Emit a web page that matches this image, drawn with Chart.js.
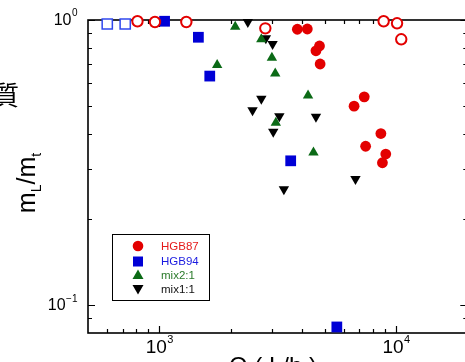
<!DOCTYPE html>
<html>
<head>
<meta charset="utf-8">
<script src="https://cdn.jsdelivr.net/npm/chart.js@4/dist/chart.umd.min.js"></script>
<style>
  html, body { margin: 0; padding: 0; background: #fff; overflow: hidden; }
  #wrap { position: absolute; left: 0; top: 0; width: 476px; height: 362px; }
</style>
</head>
<body>
<div id="wrap"><canvas id="grafico" width="476" height="362"></canvas></div>
<script>
// datos: Q (L/h) y m_L/m_t
const hgb87Q      = [3830, 4220, 4750, 4590, 4780, 7340, 6650, 8630, 7440, 9050, 8760];
const hgb87Ratio  = [0.928, 0.930, 0.811, 0.780, 0.701, 0.538, 0.499, 0.400, 0.361, 0.339, 0.316];
const hgb87OpenQ     = [809, 959, 1301, 2805, 8865, 10100, 10520];
const hgb87OpenRatio = [0.990, 0.984, 0.984, 0.935, 0.990, 0.974, 0.856];

const hgb94Q      = [1053, 1463, 1634, 3590, 5623];
const hgb94Ratio  = [0.990, 0.870, 0.636, 0.321, 0.084];
const hgb94OpenQ     = [603, 718];
const hgb94OpenRatio = [0.968, 0.968];

const mix21Q      = [2093, 1756, 2698, 2990, 3089, 4250, 3107, 4480];
const mix21Ratio  = [0.947, 0.695, 0.856, 0.738, 0.650, 0.544, 0.436, 0.343];

const mix11Q      = [2366, 2820, 3010, 2698, 2477, 3215, 3030, 4590, 6740, 3360];
const mix11Ratio  = [0.984, 0.863, 0.824, 0.530, 0.483, 0.460, 0.406, 0.458, 0.277, 0.255];

const legendNames = ["HGB87", "HGB94", "mix2:1", "mix1:1"];
const xMajor = [1000, 10000];
const xMinor = [600, 700, 800, 900, 2000, 3000, 4000, 5000, 6000, 7000, 8000, 9000];
const yMajor = [0.1, 1];
const yMinor = [0.09, 0.2, 0.3, 0.4, 0.5, 0.6, 0.7, 0.8, 0.9];

const ROJO = "#e30000", AZUL = "#0000d6", VERDE = "#0b6a16", NEGRO = "#000000";

function puntos(xs, ys) {
  return xs.map((x, i) => ({ x: x, y: ys[i] }));
}

// marcador simple para la leyenda
function marcador(ctx, tipo, x, y, color) {
  ctx.save();
  ctx.fillStyle = color;
  ctx.beginPath();
  if (tipo === "circle") {
    ctx.arc(x, y, 5.3, 0, Math.PI * 2);
  } else if (tipo === "rect") {
    ctx.rect(x - 5, y - 5, 10, 10);
  } else if (tipo === "up") {
    ctx.moveTo(x, y - 5.5); ctx.lineTo(x + 5.5, y + 4); ctx.lineTo(x - 5.5, y + 4);
  } else {
    ctx.moveTo(x, y + 5.5); ctx.lineTo(x + 5.5, y - 4); ctx.lineTo(x - 5.5, y - 4);
  }
  ctx.closePath();
  ctx.fill();
  ctx.restore();
}

// 10 con exponente
function potencia(ctx, exp, x, y, tam, tamExp, alinear, subida) {
  ctx.font = tam + "px 'Liberation Sans', Arial, sans-serif";
  const w1 = ctx.measureText("10").width;
  ctx.font = tamExp + "px 'Liberation Sans', Arial, sans-serif";
  const w2 = ctx.measureText(exp).width;
  let x0 = alinear === "right" ? x - w1 - w2 : x - (w1 + w2) / 2;
  ctx.textAlign = "left";
  ctx.textBaseline = "alphabetic";
  ctx.font = tam + "px 'Liberation Sans', Arial, sans-serif";
  ctx.fillText("10", x0, y);
  ctx.font = tamExp + "px 'Liberation Sans', Arial, sans-serif";
  ctx.fillText(exp, x0 + w1 + 0.5, y - subida);
}

const ejes = {
  id: "ejes",
  beforeDatasetsDraw(chart) {
    const { ctx, chartArea: a, scales: { x, y } } = chart;
    ctx.save();
    ctx.strokeStyle = "#000";
    ctx.lineWidth = 1.6;
    ctx.strokeRect(a.left, a.top, a.right - a.left, a.bottom - a.top);
    ctx.lineWidth = 1.2;
    ctx.beginPath();
    const tx = (v, len) => {
      const px = Math.round(x.getPixelForValue(v)) + 0.5;
      ctx.moveTo(px, a.bottom); ctx.lineTo(px, a.bottom - len);
      ctx.moveTo(px, a.top); ctx.lineTo(px, a.top + len);
    };
    const ty = (v, len) => {
      const py = Math.round(y.getPixelForValue(v)) + 0.5;
      ctx.moveTo(a.left, py); ctx.lineTo(a.left + len, py);
      ctx.moveTo(a.right, py); ctx.lineTo(a.right - len, py);
    };
    xMinor.forEach(v => tx(v, 4));
    xMajor.forEach(v => tx(v, 7));
    yMinor.forEach(v => ty(v, 4));
    yMajor.forEach(v => ty(v, 7));
    ctx.stroke();
    ctx.restore();
  },
  afterDraw(chart) {
    const { ctx, scales: { x, y } } = chart;
    ctx.save();
    ctx.fillStyle = "#000";
    // etiquetas del eje y
    potencia(ctx, "0", 77, y.getPixelForValue(1) + 5, 16, 10, "right", 9);
    potencia(ctx, "\u22121", 77, y.getPixelForValue(0.1) + 5, 16, 10, "right", 8);
    // etiquetas del eje x
    potencia(ctx, "3", x.getPixelForValue(1000), 353, 19, 11, "center", 10);
    potencia(ctx, "4", x.getPixelForValue(10000), 353, 19, 11, "center", 10);

    // titulo eje y: m_L/m_t
    ctx.save();
    ctx.translate(35, 183);
    ctx.rotate(-Math.PI / 2);
    const partes = [["m", 25, 0], ["L", 14, 6], ["/", 25, 0], ["m", 25, 0], ["t", 14, 6]];
    let total = 0;
    partes.forEach(p => {
      ctx.font = p[1] + "px 'Liberation Sans', Arial, sans-serif";
      total += ctx.measureText(p[0]).width;
    });
    let cx = -total / 2;
    ctx.textAlign = "left";
    ctx.textBaseline = "alphabetic";
    partes.forEach(p => {
      ctx.font = p[1] + "px 'Liberation Sans', Arial, sans-serif";
      ctx.fillText(p[0], cx, p[2]);
      cx += ctx.measureText(p[0]).width;
    });
    ctx.restore();

    // texto japones cortado a la izquierda
    ctx.font = "26px 'Noto Sans CJK JP', sans-serif";
    ctx.textAlign = "right";
    ctx.textBaseline = "middle";
    ctx.fillText("質", 19, 95);

    // titulo eje x (cortado abajo)
    ctx.font = "24px 'Liberation Sans', Arial, sans-serif";
    ctx.textAlign = "center";
    ctx.textBaseline = "alphabetic";
    ctx.fillText("Q ( L/h )", 273, 374);

    // leyenda
    ctx.lineWidth = 1;
    ctx.strokeStyle = "#000";
    ctx.strokeRect(112.5, 234.5, 97, 66);
    const filas = [246, 261.5, 275, 289];
    const tipos = ["circle", "rect", "up", "down"];
    const colores = [ROJO, AZUL, VERDE, NEGRO];
    const coloresTexto = ["#e51a1a", "#1a1ae0", "#2a7a2a", "#111111"];
    ctx.font = "11.5px 'Liberation Sans', Arial, sans-serif";
    ctx.textAlign = "left";
    ctx.textBaseline = "middle";
    legendNames.forEach((n, i) => {
      marcador(ctx, tipos[i], 138, filas[i], colores[i]);
      ctx.fillStyle = coloresTexto[i];
      ctx.fillText(n, 161, filas[i] + 0.5);
    });
    ctx.restore();
  }
};

new Chart(document.getElementById("grafico"), {
  type: "scatter",
  data: {
    datasets: [
      {
        label: "HGB94 abierto",
        data: puntos(hgb94OpenQ, hgb94OpenRatio),
        pointStyle: "rect", pointRadius: 7.2,
        backgroundColor: "#ffffff", borderColor: "#3048ee", borderWidth: 1.5, clip: false
      },
      {
        label: "HGB87 abierto",
        data: puntos(hgb87OpenQ, hgb87OpenRatio),
        pointStyle: "circle", pointRadius: 5.2,
        backgroundColor: "#ffffff", borderColor: ROJO, borderWidth: 2, clip: false
      },
      {
        label: "HGB94",
        data: puntos(hgb94Q, hgb94Ratio),
        pointStyle: "rect", pointRadius: 7.6,
        backgroundColor: AZUL, borderColor: AZUL, borderWidth: 0, clip: false
      },
      {
        label: "mix2:1",
        data: puntos(mix21Q, mix21Ratio),
        pointStyle: "triangle", pointRadius: 6,
        backgroundColor: VERDE, borderColor: VERDE, borderWidth: 0, clip: false
      },
      {
        label: "mix1:1",
        data: puntos(mix11Q, mix11Ratio),
        pointStyle: "triangle", rotation: 180, pointRadius: 6,
        backgroundColor: NEGRO, borderColor: NEGRO, borderWidth: 0, clip: false
      },
      {
        label: "HGB87",
        data: puntos(hgb87Q, hgb87Ratio),
        pointStyle: "circle", pointRadius: 5.4,
        backgroundColor: ROJO, borderColor: ROJO, borderWidth: 0, clip: false
      }
    ]
  },
  options: {
    responsive: false,
    animation: false,
    devicePixelRatio: 1,
    layout: { padding: { top: 20, right: 4, left: 0, bottom: 0 } },
    plugins: { legend: { display: false }, tooltip: { enabled: false } },
    scales: {
      x: {
        type: "logarithmic", min: 500, max: 20000,
        ticks: { display: false }, grid: { display: false }, border: { display: false },
        afterFit: s => { s.height = 29; }
      },
      y: {
        type: "logarithmic", min: 0.08, max: 1,
        ticks: { display: false }, grid: { display: false }, border: { display: false },
        afterFit: s => { s.width = 88; }
      }
    }
  },
  plugins: [ejes]
});
</script>
</body>
</html>
